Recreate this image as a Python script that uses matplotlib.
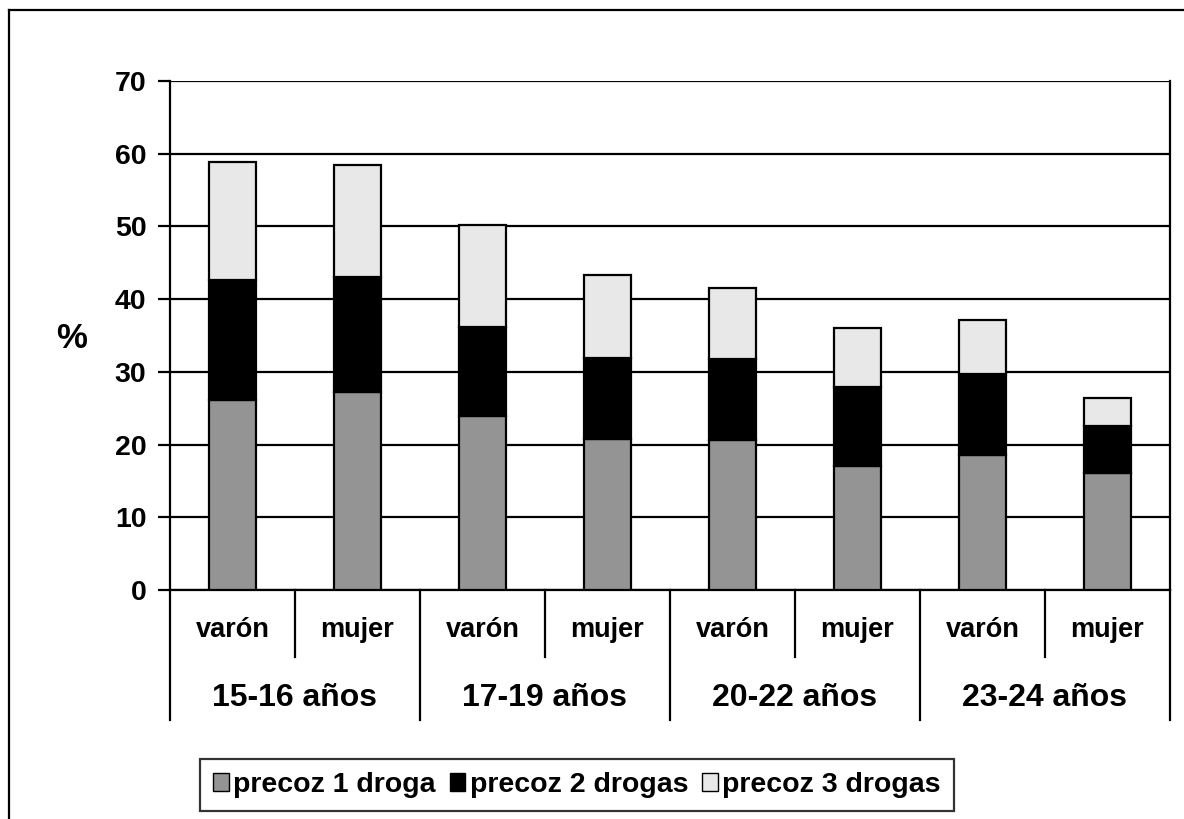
import matplotlib
matplotlib.use("Agg")
import matplotlib.pyplot as plt
from matplotlib.lines import Line2D
from matplotlib.transforms import blended_transform_factory
import numpy as np

plt.rcParams["font.family"] = ["Liberation Sans", "DejaVu Sans"]
plt.rcParams["font.weight"] = "bold"

# ---- data ----
grupos = ["15-16 años", "17-19 años", "20-22 años", "23-24 años"]
sexos = ["varón", "mujer"]
series = ["precoz 1 droga", "precoz 2 drogas", "precoz 3 drogas"]

una_droga = [26.1, 27.2, 23.9, 20.7, 20.6, 17.1, 18.6, 16.1]
dos_drogas = [16.6, 15.9, 12.3, 11.2, 11.2, 10.8, 11.1, 6.4]
tres_drogas = [16.1, 15.4, 14.0, 11.4, 9.7, 8.1, 7.4, 3.9]

yticks = [0, 10, 20, 30, 40, 50, 60, 70]

GRAY, LIGHT = "#949494", "#e8e8e8"

fig = plt.figure(figsize=(11.84, 8.19), dpi=100, facecolor="white")
W, H = 1184, 819
ax = fig.add_axes([170 / W, 1 - 590 / H, 1000 / W, 509 / H])

x = np.arange(len(una_droga))
bw = 0.375
b0 = np.zeros(len(x))
handles = []
for vals, col in zip([una_droga, dos_drogas, tres_drogas], [GRAY, "black", LIGHT]):
    h = ax.bar(x, vals, bw, bottom=b0, color=col, edgecolor="black",
               linewidth=1.6, zorder=3)
    handles.append(h)
    b0 = b0 + np.array(vals)

ax.set_xlim(-0.5, len(x) - 0.5)
ax.set_ylim(0, 70)
ax.set_yticks(yticks)
ax.set_yticklabels([str(t) for t in yticks], fontsize=20.5, fontweight="bold")
ax.tick_params(axis="y", length=9, width=1.6, pad=8)
ax.set_xticks([])
ax.yaxis.grid(True, color="black", linewidth=1.6, zorder=0)
ax.set_axisbelow(True)
for s in ax.spines.values():
    s.set_linewidth(1.6)
ax.spines["top"].set_visible(False)

ax.text(-0.098, 0.495, "%", transform=ax.transAxes, fontsize=25,
        fontweight="bold", ha="center", va="center")

# two-level category axis
tr = blended_transform_factory(ax.transData, ax.transAxes)
for i in range(len(x) + 1):
    depth = -0.255 if i % 2 == 0 else -0.132
    ax.add_line(Line2D([i - 0.5, i - 0.5], [0, depth], transform=tr,
                       color="black", linewidth=1.6, clip_on=False))
for i in range(len(x)):
    ax.text(i, -0.078, sexos[i % 2], transform=tr, ha="center", va="center",
            fontsize=19.5, fontweight="bold")
for g, name in enumerate(grupos):
    ax.text(2 * g + 0.5, -0.212, name, transform=tr, ha="center",
            va="center", fontsize=23, fontweight="bold")

leg = fig.legend(handles, series, loc="center",
                 bbox_to_anchor=(577 / W, 1 - 785 / H), ncol=3,
                 prop={"weight": "bold", "size": 20.5},
                 handlelength=0.55, handleheight=0.55, handletextpad=0.15,
                 columnspacing=0.5, borderpad=0.45, fancybox=False,
                 borderaxespad=0)
leg.get_frame().set_edgecolor("black")
leg.get_frame().set_linewidth(1.6)
for hd in leg.legend_handles:
    hd.set_linewidth(1.0)

# outer frame
fig.add_artist(Line2D([9 / W, 9 / W], [0, 1 - 10 / H], transform=fig.transFigure,
                      color="black", linewidth=1.6))
fig.add_artist(Line2D([9 / W, 1], [1 - 10 / H, 1 - 10 / H], transform=fig.transFigure,
                      color="black", linewidth=1.6))

fig.savefig("out.png", dpi=100, facecolor="white")
